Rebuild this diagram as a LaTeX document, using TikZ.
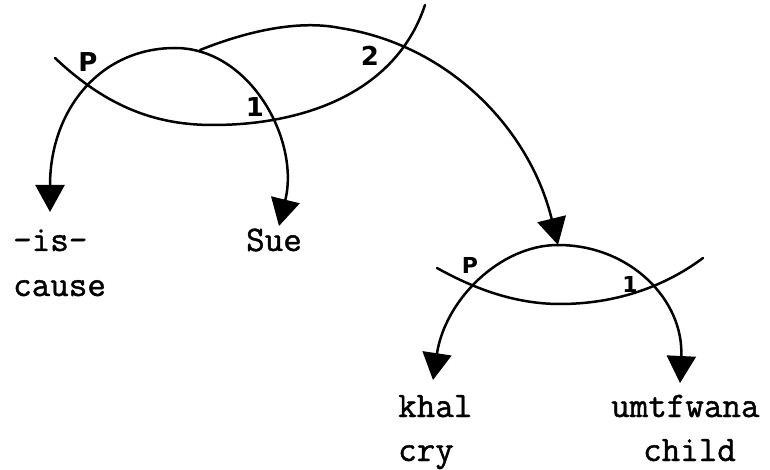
\documentclass[tikz,border=0pt]{standalone}
\usepackage{fontspec}
\newfontfamily\handfont{DejaVu Sans}
\newfontfamily\typew[FakeBold=1.2]{Latin Modern Mono}
\usetikzlibrary{arrows.meta}
\begin{document}
\begin{tikzpicture}[x=1pt,y=-1pt,
  arc/.style={line width=2.5pt, line cap=round},
  arr/.style={arc, -{Triangle[length=27pt,width=29pt]}},
  word/.style={anchor=base west, inner sep=0pt, font=\fontsize{36}{40}\selectfont\typew},
  lab/.style={inner sep=0pt, font=\fontsize{26}{30}\selectfont\handfont\bfseries},
  labs/.style={inner sep=0pt, font=\fontsize{22}{26}\selectfont\handfont\bfseries}]
\useasboundingbox (0,0) rectangle (770,470);
% words
\node[word] (is) at (13,251) {-is-};
\node[word] (cause) at (13,296) {cause};
\node[word] (sue) at (246,251) {Sue};
\node[word] (khal) at (398,417) {khal};
\node[word] (cry) at (398,461) {cry};
\node[word] (umt) at (611,417) {umtfwana};
\node[word] (child) at (643,461) {child};
% points
\coordinate (top1) at (175,48);
\coordinate (src2) at (200,50);
\coordinate (tipis) at (50,212);
\coordinate (tipsue) at (279,226);
\coordinate (top2) at (558,245);
\coordinate (tipkhal) at (433,380);
\coordinate (tipumt) at (680,383);
\coordinate (c1a) at (55,58);
\coordinate (c1b) at (425,5);
\coordinate (c2a) at (437,268);
\coordinate (c2b) at (703,258);
% first structure
\draw[arr] (top1) .. controls (100,48) and (50,110) .. (tipis);
\draw[arr] (top1) .. controls (250,48) and (300,140) .. (tipsue);
\draw[arr] (src2) .. controls (250,30) and (300,20) .. (340,28) .. controls (450,45) and (530,130) .. (top2);
\draw[arc] (c1a) .. controls (110,110) and (160,125) .. (213,125) .. controls (300,125) and (395,95) .. (c1b);
% second structure
\draw[arr] (top2) .. controls (500,245) and (445,300) .. (tipkhal);
\draw[arr] (top2) .. controls (630,245) and (684,300) .. (tipumt);
\draw[arc] (c2a) .. controls (480,292) and (520,304) .. (560,304) .. controls (610,304) and (660,290) .. (c2b);
% labels
\node[lab] (p1) at (88,62) {P};
\node[lab] (one1) at (255,107) {1};
\node[lab] (two) at (370,56) {2};
\node[labs] (p2) at (470,265) {P};
\node[labs] (one2) at (630,284) {1};
\end{tikzpicture}
\end{document}
